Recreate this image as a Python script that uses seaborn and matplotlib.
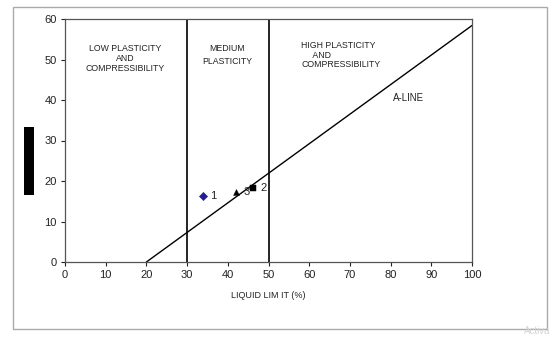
import numpy as np
import pandas as pd
import matplotlib
matplotlib.use('Agg')
import matplotlib.pyplot as plt
import seaborn as sns
from matplotlib.patches import Rectangle

# 样本点
sample_ids = ['1', '2', '3']
liquid_limit = [33.8, 46.3, 42.1]
plasticity_index = [16.4, 18.3, 17.3]
markers = ['D', 's', '^']
colors = ['#1f1f8f', 'black', 'black']

# A 线
a_line_ll = [20, 100]
a_line_pi = [0.0, 58.4]

# 分区线
zone_lines = [30, 50]

x_ticks = list(range(0, 101, 10))
y_ticks = list(range(0, 61, 10))

sns.set_theme(style='white')
plt.rcParams['font.family'] = ['Liberation Sans', 'DejaVu Sans']

fig = plt.figure(figsize=(5.52, 3.39), dpi=100)
ax = fig.add_axes([65 / 552, 1 - 262 / 339, (472 - 65) / 552, (262 - 19) / 339])

# 外框
fig.patches.append(Rectangle((13 / 552, 1 - 329 / 339), (547 - 13) / 552, (329 - 7) / 339,
                             transform=fig.transFigure, fill=False, edgecolor='#aaaaaa', lw=1))
# 被遮住的 y 轴标题
fig.patches.append(Rectangle((24 / 552, 1 - 195 / 339), 10 / 552, 68 / 339,
                             transform=fig.transFigure, facecolor='black', edgecolor='none'))

df = pd.DataFrame({'ll': liquid_limit, 'pi': plasticity_index, 'id': sample_ids})
for i, row in df.iterrows():
    sns.scatterplot(x=[row['ll']], y=[row['pi']], marker=markers[i], color=colors[i],
                    s=18, edgecolor=colors[i], ax=ax, zorder=4)
    ax.text(row['ll'] + 1.8, row['pi'], row['id'], fontsize=8, va='center', color='#222222')

sns.lineplot(x=a_line_ll, y=a_line_pi, color='black', lw=1, ax=ax)
for zx in zone_lines:
    ax.axvline(zx, color='black', lw=1.2)

ax.text(14.7, 53.8, 'LOW PLASTICITY\nAND\nCOMPRESSIBILITY', fontsize=6.3, ha='center', va='top',
        linespacing=1.1, color='#222222')
ax.text(39.8, 53.8, 'MEDIUM\nPLASTICITY', fontsize=6.3, ha='center', va='top',
        linespacing=1.6, color='#222222')
ax.text(58.0, 54.6, 'HIGH PLASTICITY\n     AND\nCOMPRESSIBILITY', fontsize=6.3, ha='left', va='top',
        linespacing=1.1, color='#222222')
ax.text(80.5, 40.6, 'A-LINE', fontsize=7, ha='left', va='center', color='#222222')

ax.set_xlim(0, 100)
ax.set_ylim(0, 60)
ax.set_xticks(x_ticks)
ax.set_yticks(y_ticks)
ax.tick_params(axis='both', direction='out', length=3, width=0.8, labelsize=8,
               colors='#222222', bottom=True, left=True, pad=3)
for s in ax.spines.values():
    s.set_color('#555555')
    s.set_linewidth(0.9)
ax.set_xlabel('LIQUID LIM IT (%)', fontsize=6.5, labelpad=8, color='#222222')
ax.set_ylabel('')

fig.text(550 / 552, 1 - 336 / 339, 'Activa', fontsize=7, color='#d4d4d4', ha='right', va='bottom')

fig.savefig('out.png', dpi=100)
